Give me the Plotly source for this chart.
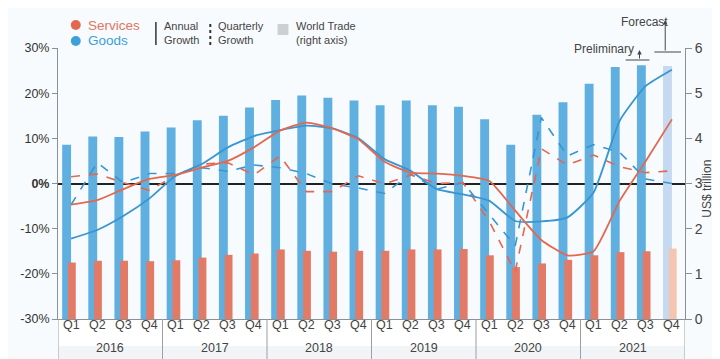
import plotly.graph_objects as go

quarters = ["Q1", "Q2", "Q3", "Q4"] * 6
years = ["2016", "2017", "2018", "2019", "2020", "2021"]

# World trade, US$ trillion (right axis)
goods_trade = [3.86, 4.04, 4.03, 4.15, 4.24, 4.40, 4.50, 4.68, 4.85, 4.95, 4.90, 4.84,
               4.73, 4.84, 4.73, 4.70, 4.42, 3.86, 4.52, 4.80, 5.21, 5.58, 5.62, 5.60]
services_trade = [1.25, 1.29, 1.29, 1.28, 1.30, 1.36, 1.42, 1.45, 1.54, 1.51, 1.49, 1.51,
                  1.51, 1.54, 1.54, 1.55, 1.41, 1.15, 1.23, 1.31, 1.41, 1.48, 1.50, 1.56]

# Growth, % (left axis)
goods_annual = [-12.2, -10.3, -7.2, -3.3, 1.7, 4.3, 8.0, 10.5, 11.8, 12.8, 12.2, 10.0,
                5.4, 2.8, -1.25, -2.4, -3.8, -8.3, -8.4, -7.5, -2.0, 13.9, 21.6, 25.2]
services_annual = [-4.7, -3.7, -1.25, 1.0, 1.9, 3.5, 5.0, 8.0, 11.7, 13.5, 12.2, 9.8,
                   4.8, 2.4, 2.2, 1.7, 0.6, -6.0, -12.5, -15.9, -15.0, -3.8, 5.0, 14.2]
goods_quarterly = [-4.7, 4.6, 0.2, 2.2, 2.2, 3.5, 2.7, 4.1, 3.5, 2.2, -0.1, -1.0,
                   -2.2, 2.1, -1.25, 0.2, -6.8, -13.8, 14.6, 6.1, 8.6, 6.9, 1.0, 0.0]
services_quarterly = [1.5, 2.1, 0.2, -1.5, 1.7, 4.3, 4.6, 1.9, 6.1, -1.8, -1.8, 1.7,
                      -0.1, 1.9, 0.0, 0.2, -8.3, -19.5, 7.7, 4.1, 6.3, 3.7, 2.4, 2.8]

idx = list(range(len(quarters)))

BLUE_BAR = "rgb(95,175,225)"
BLUE_BAR_L = "rgb(197,218,240)"
ORANGE_BAR = "rgb(226,122,102)"
ORANGE_BAR_L = "rgb(244,198,178)"
BLUE_LINE = "rgb(55,150,210)"
ORANGE_LINE = "rgb(226,104,80)"
SERV_TXT = "rgb(225,118,95)"
GOODS_TXT = "rgb(60,160,218)"
FONT = "Liberation Sans Narrow, Liberation Sans, Arial, sans-serif"
BG = "#f8fbfd"

fig = go.Figure()

fig.add_trace(go.Bar(
    x=idx, y=goods_trade, yaxis="y", width=0.34, offset=-0.34,
    marker=dict(color=[BLUE_BAR] * 23 + [BLUE_BAR_L], line_width=0),
    hoverinfo="y"))
fig.add_trace(go.Bar(
    x=idx, y=services_trade, yaxis="y", width=0.3, offset=-0.12,
    marker=dict(color=[ORANGE_BAR] * 23 + [ORANGE_BAR_L], line_width=0),
    hoverinfo="y"))

fig.add_trace(go.Scatter(x=idx, y=goods_quarterly, yaxis="y2", mode="lines",
                         line=dict(color=BLUE_LINE, width=1.6, dash="dash")))
fig.add_trace(go.Scatter(x=idx, y=services_quarterly, yaxis="y2", mode="lines",
                         line=dict(color=ORANGE_LINE, width=1.6, dash="dash")))
fig.add_trace(go.Scatter(x=idx, y=goods_annual, yaxis="y2", mode="lines",
                         line=dict(color=BLUE_LINE, width=1.8, shape="spline", smoothing=0.5)))
fig.add_trace(go.Scatter(x=idx, y=services_annual, yaxis="y2", mode="lines",
                         line=dict(color=ORANGE_LINE, width=1.8, shape="spline", smoothing=0.5)))

L, R, T, B = 43, 677, 40, 311
W, H = R - L, B - T


def xp(px):
    return (px - L) / W


def yp(py):
    return (B - py) / H


shapes = []
annotations = []

# label rows background
shapes.append(dict(type="rect", xref="paper", yref="paper", x0=0, x1=1,
                   y0=yp(338), y1=0, fillcolor="#ffffff", line_width=0, layer="below"))
shapes.append(dict(type="rect", xref="paper", yref="paper", x0=0, x1=1,
                   y0=yp(359), y1=yp(338), fillcolor="#f2f5f8", line_width=0, layer="below"))
# year dividers
for k in range(len(years) + 1):
    xv = -0.5 + 4 * k
    shapes.append(dict(type="line", xref="x", yref="paper", x0=xv, x1=xv,
                       y0=0, y1=yp(359), line=dict(color="#9aa0a6", width=1)))
for k, yr in enumerate(years):
    annotations.append(dict(x=1.5 + 4 * k, y=yp(349), xref="x", yref="paper", text=yr,
                            showarrow=False, font=dict(size=12.5, color="#444", family=FONT)))
for i, q in zip(idx, quarters):
    annotations.append(dict(x=i, y=yp(326), xref="x", yref="paper", text=q,
                            showarrow=False, font=dict(size=12.5, color="#444", family=FONT)))

# legend
for cy, col, txt, tcol in [(17, ORANGE_LINE, "Services", SERV_TXT), (33, GOODS_TXT, "Goods", GOODS_TXT)]:
    shapes.append(dict(type="circle", xref="paper", yref="paper",
                       x0=xp(56), x1=xp(66), y0=yp(cy + 5), y1=yp(cy - 5),
                       fillcolor=col, line_width=0))
    annotations.append(dict(x=xp(71), y=yp(cy), xref="paper", yref="paper", text=txt,
                            xanchor="left", yanchor="middle", showarrow=False,
                            font=dict(size=13.5, color=tcol, family=FONT)))
shapes.append(dict(type="line", xref="paper", yref="paper", x0=xp(142), x1=xp(142),
                   y0=yp(37), y1=yp(14), line=dict(color="#333", width=1.5)))
shapes.append(dict(type="line", xref="paper", yref="paper", x0=xp(197), x1=xp(197),
                   y0=yp(37), y1=yp(14), line=dict(color="#333", width=2, dash="3px,3px")))
shapes.append(dict(type="rect", xref="paper", yref="paper", x0=xp(265), x1=xp(276),
                   y0=yp(27), y1=yp(16), fillcolor="#cdd0d3", line_width=0))
for x0, txt in [(148, "Annual<br>Growth"), (203, "Quarterly<br>Growth"), (282, "World Trade<br>(right axis)")]:
    annotations.append(dict(x=xp(x0), y=yp(25.5), xref="paper", yref="paper", text=txt,
                            xanchor="left", yanchor="middle", align="left", showarrow=False,
                            font=dict(size=11, color="#444", family=FONT)))

# Preliminary / Forecast markers
shapes.append(dict(type="line", xref="paper", yref="paper", x0=xp(617), x1=xp(641),
                   y0=yp(52), y1=yp(52), line=dict(color="#444", width=1)))
shapes.append(dict(type="line", xref="paper", yref="paper", x0=xp(646), x1=xp(673),
                   y0=yp(44), y1=yp(44), line=dict(color="#444", width=1)))
annotations.append(dict(x=xp(631), y=yp(42), xref="paper", yref="paper", text="",
                        showarrow=True, ax=0, ay=10, arrowhead=2, arrowsize=0.9,
                        arrowwidth=1, arrowcolor="#444"))
annotations.append(dict(x=xp(657), y=yp(12), xref="paper", yref="paper", text="",
                        showarrow=True, ax=0, ay=32, arrowhead=2, arrowsize=0.9,
                        arrowwidth=1, arrowcolor="#444"))
annotations.append(dict(x=xp(627), y=yp(32), xref="paper", yref="paper", text="Preliminary",
                        showarrow=False, font=dict(size=12, color="#444", family=FONT)))
annotations.append(dict(x=xp(662), y=yp(5), xref="paper", yref="paper", text="Forecast",
                        showarrow=False, font=dict(size=12, color="#444", family=FONT)))
# right axis title
annotations.append(dict(x=xp(708), y=yp(181), xref="paper", yref="paper", text="US$ trillion",
                        textangle=-90, showarrow=False,
                        font=dict(size=12, color="#444", family=FONT)))

pct_vals = [-30, -20, -10, 0, 10, 20, 30]
pct_text = [("<b>%d%%</b>" % v) if v == 0 else ("%d%%" % v) for v in pct_vals]

fig.update_layout(
    width=720, height=359,
    margin=dict(l=L, r=720 - R, t=T, b=359 - B),
    paper_bgcolor=BG, plot_bgcolor=BG,
    showlegend=False, barmode="overlay",
    font=dict(family=FONT, color="#444"),
    xaxis=dict(range=[-0.5, 23.5], tickvals=idx, showticklabels=False,
               showline=True, linecolor="#8a9096", linewidth=1,
               ticks="", showgrid=False, zeroline=False, fixedrange=True),
    xaxis2=dict(range=[-0.5, 23.5], overlaying="x", anchor="free", position=0.5,
                side="bottom", tickvals=[i + 0.5 for i in idx[:-1]],
                ticks="outside", ticklen=4, tickcolor="#888", showticklabels=False,
                showline=False, showgrid=False, zeroline=False),
    yaxis=dict(range=[0, 6], side="right", tickvals=[0, 1, 2, 3, 4, 5, 6],
               ticks="outside", ticklen=6, tickcolor="#8a9096",
               showline=True, linecolor="#8a9096", linewidth=1,
               tickfont=dict(size=14, color="#444", family=FONT),
               showgrid=False, zeroline=False),
    yaxis2=dict(range=[-30, 30], side="left", overlaying="y", tickvals=pct_vals, ticktext=pct_text,
                ticks="outside", ticklen=5, tickcolor="#8a9096",
                showline=True, linecolor="#8a9096", linewidth=1,
                tickfont=dict(size=12.5, color="#333", family=FONT),
                showgrid=False, zeroline=True, zerolinecolor="#222", zerolinewidth=2),
    shapes=shapes, annotations=annotations,
)

fig.write_html("out.html")
